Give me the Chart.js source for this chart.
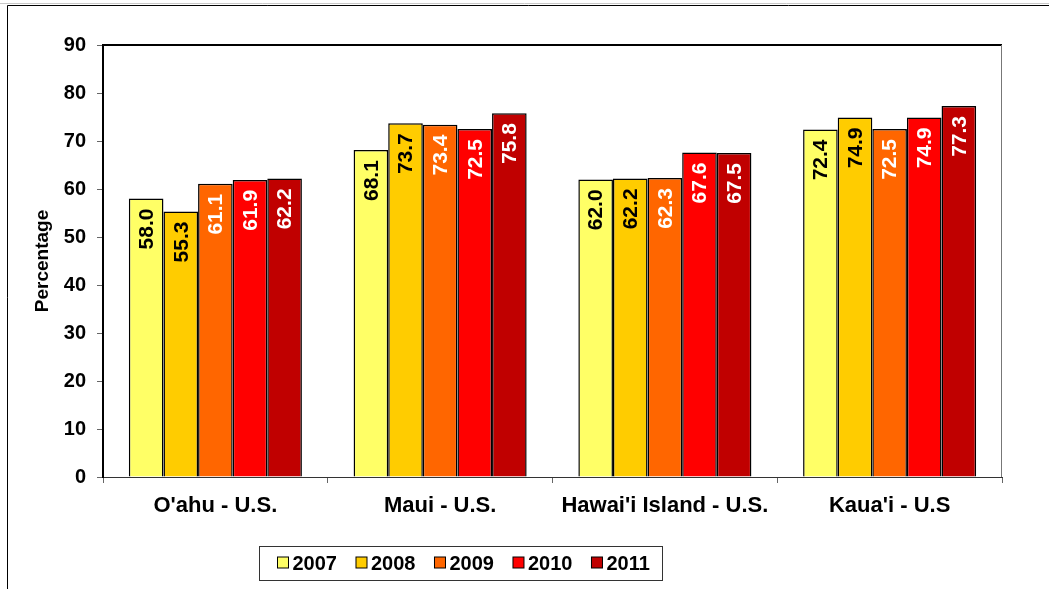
<!DOCTYPE html>
<html>

<head>
    <title>Percentage by island</title>
    <script src="https://cdn.jsdelivr.net/npm/chart.js"></script>
    <style>
        html, body {
            margin: 0;
            padding: 0;
            background: #fff;
        }

        #wrap {
            width: 1049px;
            height: 589px;
        }
    </style>
</head>

<body>
    <div id="wrap"><canvas id="myChart"></canvas></div>

    <script>
        // chart data
        const categories = ["O'ahu - U.S.", 'Maui - U.S.', "Hawai'i Island - U.S.", "Kaua'i - U.S"];
        const years = ['2007', '2008', '2009', '2010', '2011'];
        const values2007 = [58.0, 68.1, 62.0, 72.4];
        const values2008 = [55.3, 73.7, 62.2, 74.9];
        const values2009 = [61.1, 73.4, 62.3, 72.5];
        const values2010 = [61.9, 72.5, 67.6, 74.9];
        const values2011 = [62.2, 75.8, 67.5, 77.3];
        const yTicks = [0, 10, 20, 30, 40, 50, 60, 70, 80, 90];

        const seriesValues = [values2007, values2008, values2009, values2010, values2011];
        const colors = ['#FFFF66', '#FFCC00', '#FF6600', '#FF0000', '#C00000'];
        const labelColors = ['#000', '#000', '#fff', '#fff', '#fff'];
        const fontFamily = "'Liberation Sans', Arial, sans-serif";

        // frame around the whole picture, plus the top/right edges of the plot area
        const framePlugin = {
            id: 'frame',
            beforeDraw(chart) {
                const c = chart.ctx;
                c.save();
                c.strokeStyle = '#c8c8c8';
                c.lineWidth = 1;
                c.beginPath();
                c.moveTo(0, 3.5);
                c.lineTo(chart.width, 3.5);
                c.stroke();
                c.strokeStyle = '#000';
                c.beginPath();
                c.moveTo(chart.width, 5.5);
                c.lineTo(7.5, 5.5);
                c.lineTo(7.5, chart.height);
                c.stroke();
                c.restore();
            },
            afterDatasetsDraw(chart) {
                const a = chart.chartArea;
                const c = chart.ctx;
                c.save();
                c.strokeStyle = '#000';
                c.lineWidth = 2;
                c.beginPath();
                c.moveTo(a.left, a.top);
                c.lineTo(a.right, a.top);
                c.stroke();
                c.strokeStyle = '#777';
                c.lineWidth = 1;
                c.beginPath();
                c.moveTo(a.right - 0.5, a.top);
                c.lineTo(a.right - 0.5, a.bottom);
                c.stroke();
                c.restore();
            }
        };

        // rotated value labels inside the bars
        const barLabels = {
            id: 'barLabels',
            afterDatasetsDraw(chart) {
                const c = chart.ctx;
                c.save();
                c.font = 'bold 21px ' + fontFamily;
                c.textAlign = 'right';
                c.textBaseline = 'middle';
                chart.data.datasets.forEach((ds, i) => {
                    const meta = chart.getDatasetMeta(i);
                    meta.data.forEach((bar, j) => {
                        c.save();
                        c.translate(bar.x + 1, bar.y + 10);
                        c.rotate(-Math.PI / 2);
                        c.fillStyle = labelColors[i];
                        c.fillText(ds.data[j].toFixed(1), 0, 0);
                        c.restore();
                    });
                });
                c.restore();
            }
        };

        // boxed legend below the axis
        const boxLegend = {
            id: 'boxLegend',
            afterDraw(chart) {
                const c = chart.ctx;
                c.save();
                c.strokeStyle = '#333';
                c.lineWidth = 1;
                c.strokeRect(259.5, 546.5, 403, 34);
                c.font = 'bold 20px ' + fontFamily;
                c.textBaseline = 'middle';
                c.textAlign = 'left';
                let x = 277.5;
                const cy = 563;
                chart.data.datasets.forEach((ds) => {
                    c.fillStyle = ds.backgroundColor;
                    c.fillRect(x, cy - 6, 11, 11);
                    c.strokeStyle = '#000';
                    c.strokeRect(x, cy - 6, 11, 11);
                    c.fillStyle = '#000';
                    c.fillText(ds.label, x + 15, cy + 1);
                    x += 15 + c.measureText(ds.label).width + 19;
                });
                c.restore();
            }
        };

        const ctx = document.getElementById('myChart').getContext('2d');

        const myChart = new Chart(ctx, {
            type: 'bar',
            data: {
                labels: categories,
                datasets: years.map((y, i) => ({
                    label: y,
                    data: seriesValues[i],
                    backgroundColor: colors[i],
                    borderColor: '#000',
                    borderWidth: 1.5,
                    categoryPercentage: 0.77,
                    barPercentage: 1.0
                }))
            },
            options: {
                responsive: true,
                maintainAspectRatio: false,
                animation: false,
                layout: {
                    padding: { left: 27, top: 45, right: 47, bottom: 0 }
                },
                plugins: {
                    legend: { display: false },
                    tooltip: { enabled: false }
                },
                scales: {
                    x: {
                        grid: {
                            offset: true,
                            drawOnChartArea: false,
                            tickLength: 6,
                            tickColor: '#666'
                        },
                        border: { color: '#333', width: 1 },
                        ticks: {
                            color: '#000',
                            padding: 10,
                            font: { family: fontFamily, size: 22, weight: 'bold' }
                        },
                        afterFit(scale) {
                            scale.height = 112;
                        }
                    },
                    y: {
                        min: 0,
                        max: 90,
                        afterBuildTicks(scale) {
                            scale.ticks = yTicks.map(v => ({ value: v }));
                        },
                        grid: {
                            drawOnChartArea: false,
                            tickLength: 6,
                            tickColor: '#666'
                        },
                        border: { color: '#000', width: 2 },
                        ticks: {
                            color: '#000',
                            padding: 11,
                            font: { family: fontFamily, size: 20, weight: 'bold' }
                        },
                        title: {
                            display: true,
                            text: 'Percentage',
                            color: '#000',
                            font: { family: fontFamily, size: 19, weight: 'bold' }
                        },
                        afterFit(scale) {
                            scale.width = 76;
                        }
                    }
                }
            },
            plugins: [framePlugin, barLabels, boxLegend]
        });
    </script>
</body>

</html>
